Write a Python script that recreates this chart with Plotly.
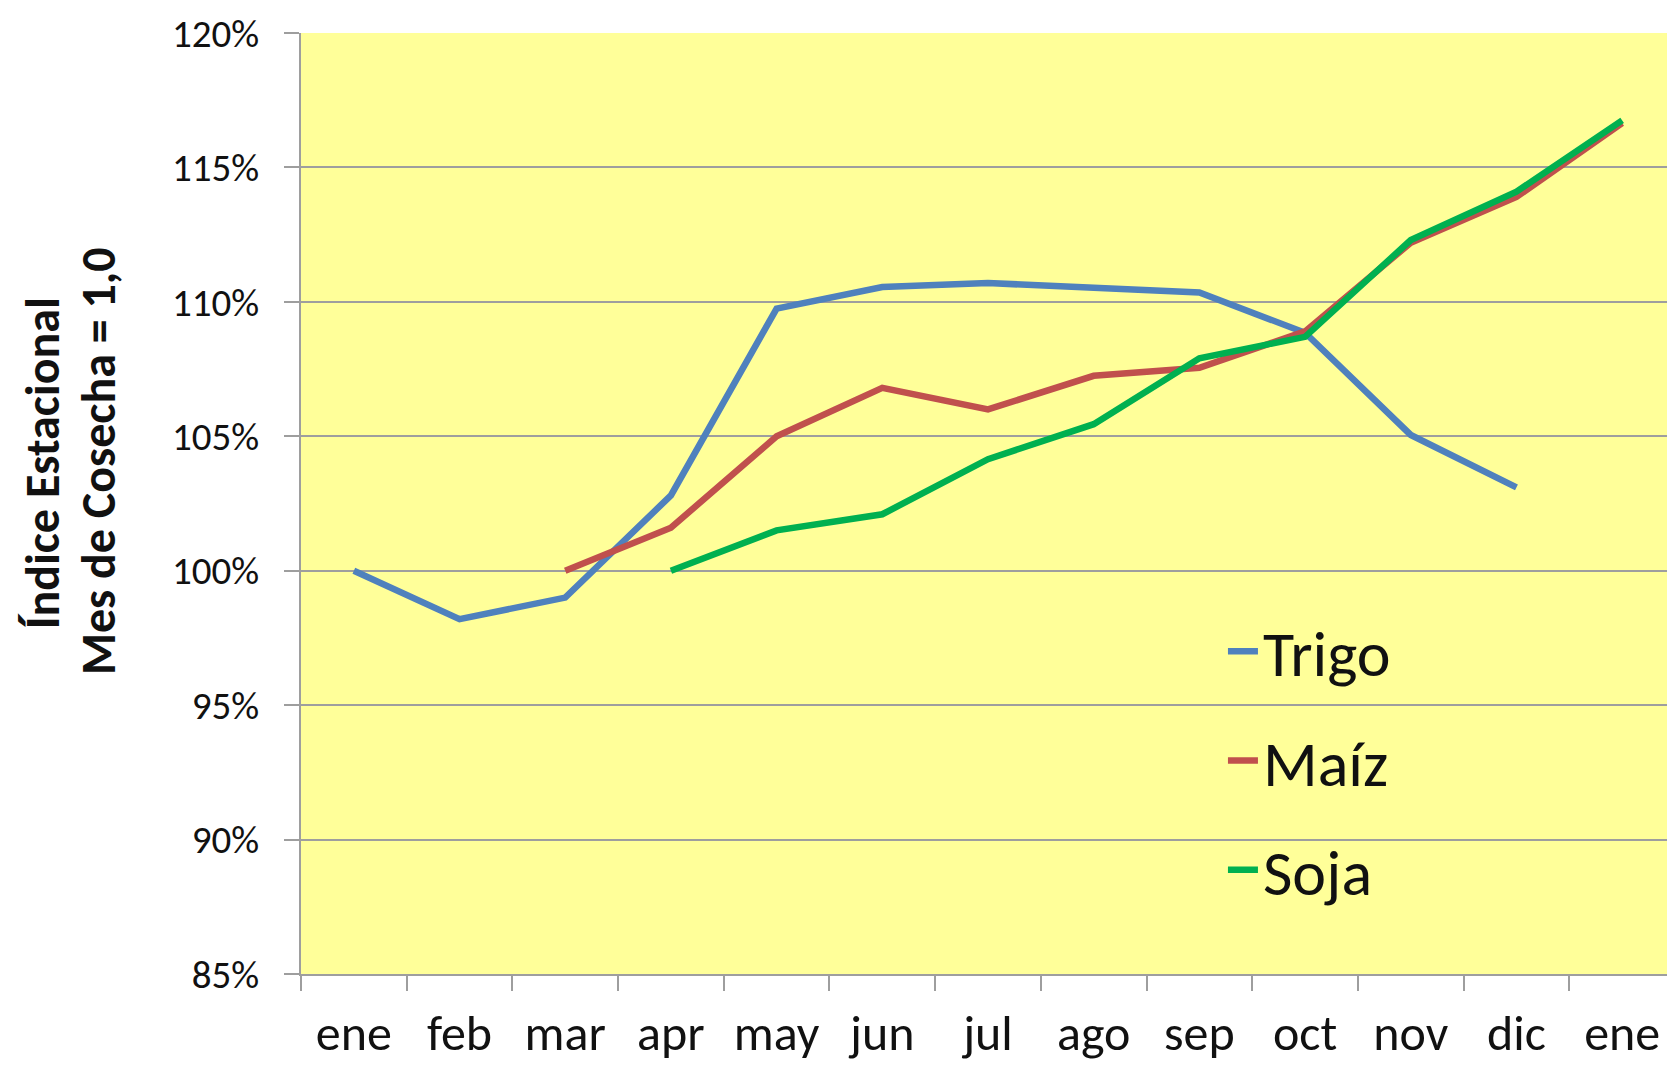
import plotly.graph_objects as go

# ---- data ----
months = ["ene", "feb", "mar", "apr", "may", "jun", "jul", "ago", "sep", "oct", "nov", "dic", "ene"]
trigo = [100.0, 98.2, 99.0, 102.8, 109.75, 110.55, 110.7, 110.5, 110.35, 108.85, 105.05, 103.1, None]
maiz = [None, None, 100.0, 101.6, 105.0, 106.8, 106.0, 107.25, 107.55, 108.9, 112.2, 113.9, 116.65]
soja = [None, None, None, 100.0, 101.5, 102.1, 104.15, 105.45, 107.9, 108.7, 112.3, 114.1, 116.75]
y_ticks = [85, 90, 95, 100, 105, 110, 115, 120]
y_ticklabels = ["85%", "90%", "95%", "100%", "105%", "110%", "115%", "120%"]
y_title_lines = ["Índice Estacional", "Mes de Cosecha = 1,0"]

series = [("Trigo", trigo, "#4F81BD"), ("Maíz", maiz, "#C0504D"), ("Soja", soja, "#00B050")]
xpos = list(range(len(months)))

FONT = "Calibri, Carlito, Lato, sans-serif"
GRID = "#9E9E9E"

fig = go.Figure()
for i, (name, vals, color) in enumerate(series):
    fig.add_trace(go.Scatter(
        x=xpos, y=vals, name=name, mode="lines",
        line=dict(color=color, width=6.5),
        connectgaps=False, legendgroup=f"g{i}",
    ))

# page body has an 8px default margin, so the figure is 8px smaller than the window
fig.update_layout(
    width=1667, height=1058,
    margin=dict(l=293, r=0, t=25, b=92, autoexpand=False),
    paper_bgcolor="white", plot_bgcolor="#FFFF99",
    font=dict(family=FONT, color="#111111"),
    showlegend=True,
    legend=dict(
        x=0.671, y=0.394, xanchor="left", yanchor="top",
        bgcolor="rgba(0,0,0,0)", font=dict(size=64, family=FONT, color="#111111"),
        tracegroupgap=23, itemwidth=30,
    ),
    xaxis=dict(
        range=[-0.5, len(months) - 0.5], automargin=False,
        tickmode="array", tickvals=xpos, ticktext=months,
        ticks="", showgrid=False, zeroline=False,
        showline=True, linecolor=GRID, linewidth=2,
        tickfont=dict(size=50, family=FONT, color="#111111"),
        ticklabelstandoff=14,
        minor=dict(tick0=-0.5, dtick=1, ticks="outside", ticklen=15, tickwidth=2,
                   tickcolor=GRID, showgrid=False),
    ),
    yaxis=dict(
        range=[85, 120], automargin=False,
        tickmode="array", tickvals=y_ticks, ticktext=y_ticklabels,
        ticks="outside", ticklen=15, tickwidth=2, tickcolor=GRID,
        showgrid=True, gridcolor=GRID, gridwidth=2, zeroline=False,
        showline=True, linecolor=GRID, linewidth=2,
        tickfont=dict(size=39, family=FONT, color="#111111"),
        ticklabelstandoff=17,
    ),
)

for txt, xp, yp in zip(y_title_lines, [-0.1883, -0.1478], [0.543, 0.545]):
    fig.add_annotation(
        text=f"<b>{txt}</b>",
        xref="paper", yref="paper", x=xp, y=yp,
        xanchor="center", yanchor="middle", textangle=-90, showarrow=False,
        font=dict(size=48, family=FONT, color="#111111"),
    )

fig.write_html("out.html")
